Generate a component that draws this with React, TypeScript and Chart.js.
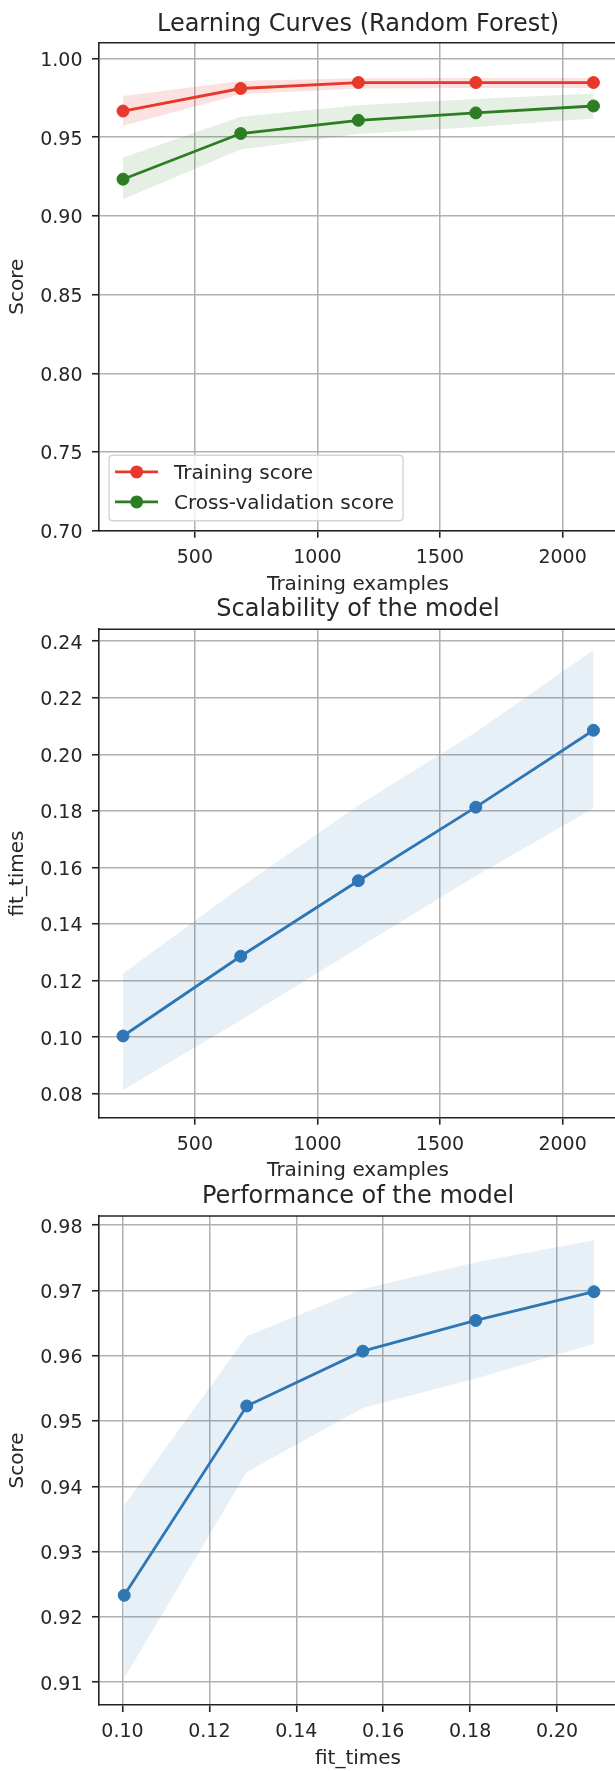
import React, { useEffect, useRef } from "react";
import { Chart, registerables } from "chart.js";

Chart.register(...registerables);

// ---------------- data ----------------
const trainSizes = [207, 687, 1167, 1646, 2126];

const trainScoreMean = [0.9666, 0.9809, 0.9847, 0.9847, 0.9847];
const trainScoreUpper = [0.9762, 0.9857, 0.9874, 0.9876, 0.9876];
const trainScoreLower = [0.9573, 0.9773, 0.9809, 0.9812, 0.9812];

const cvScoreMean = [0.9233, 0.9523, 0.9607, 0.9654, 0.9698];
const cvScoreUpper = [0.9371, 0.963, 0.9702, 0.9743, 0.9777];
const cvScoreLower = [0.9106, 0.9422, 0.952, 0.9565, 0.9618];

const fitTimesMean = [0.1004, 0.1286, 0.1553, 0.1813, 0.2085];
const fitTimesUpper = [0.1225, 0.153, 0.182, 0.2078, 0.2369];
const fitTimesLower = [0.0813, 0.106, 0.1316, 0.157, 0.1809];

const sizeTicks = [500, 1000, 1500, 2000];
const scoreTicks = [0.7, 0.75, 0.8, 0.85, 0.9, 0.95, 1.0];
const fitTimeYTicks = [0.08, 0.1, 0.12, 0.14, 0.16, 0.18, 0.2, 0.22, 0.24];
const fitTimeXTicks = [0.1, 0.12, 0.14, 0.16, 0.18, 0.2];
const perfScoreTicks = [0.91, 0.92, 0.93, 0.94, 0.95, 0.96, 0.97, 0.98];

const titles = ["Learning Curves (Random Forest)", "Scalability of the model", "Performance of the model"];
const seriesNames = ["Training score", "Cross-validation score"];

// ---------------- style ----------------
const FONT = "DejaVu Sans";
const TEXT = "#262626";
const RED = "#e6392b";
const GREEN = "#2d7d23";
const BLUE = "#2f76b4";
const CANVAS_W = 617;

Chart.defaults.font.family = FONT;

const pts = (xs: number[], ys: number[]) => xs.map((x, i) => ({ x, y: ys[i] }));

function lineDs(label: string, xs: number[], ys: number[], color: string) {
  return {
    label,
    data: pts(xs, ys),
    borderColor: color,
    backgroundColor: color,
    borderWidth: 2.8,
    pointRadius: 6,
    pointBorderWidth: 1,
    pointBackgroundColor: color,
    pointBorderColor: color,
    tension: 0,
    fill: false,
  };
}

function bandDs(label: string, xs: number[], ys: number[], fillColor: string, upper: boolean) {
  return {
    label,
    legendSkip: true,
    data: pts(xs, ys),
    borderWidth: 0,
    borderColor: "rgba(0,0,0,0)",
    backgroundColor: fillColor,
    pointRadius: 0,
    tension: 0,
    fill: upper ? "+1" : false,
  };
}

const framePlugin = {
  id: "mplFrame",
  afterDatasetsDraw(chart: any) {
    const { ctx, chartArea: a } = chart;
    ctx.save();
    ctx.strokeStyle = "#222";
    ctx.lineWidth = 1.6;
    ctx.beginPath();
    ctx.moveTo(a.left, a.top);
    ctx.lineTo(a.right, a.top);
    ctx.lineTo(a.right, a.bottom);
    ctx.stroke();
    ctx.restore();
  },
};

const legendPlugin = {
  id: "mplLegend",
  afterDatasetsDraw(chart: any, _args: any, opts: any) {
    if (!opts || !opts.show) return;
    const { ctx, chartArea: a } = chart;
    const items = chart.data.datasets.filter((d: any) => d.label && !d.legendSkip);
    ctx.save();
    ctx.font = `20px "${FONT}"`;
    const textW = Math.max(...items.map((d: any) => ctx.measureText(d.label).width));
    const left = a.left + 10;
    const bottom = a.bottom - 10;
    const height = 65.5;
    const top = bottom - height;
    const textX = left + 65;
    const right = textX + textW + 9;
    const r = 4;
    ctx.beginPath();
    ctx.moveTo(left + r, top);
    ctx.lineTo(right - r, top);
    ctx.quadraticCurveTo(right, top, right, top + r);
    ctx.lineTo(right, bottom - r);
    ctx.quadraticCurveTo(right, bottom, right - r, bottom);
    ctx.lineTo(left + r, bottom);
    ctx.quadraticCurveTo(left, bottom, left, bottom - r);
    ctx.lineTo(left, top + r);
    ctx.quadraticCurveTo(left, top, left + r, top);
    ctx.closePath();
    ctx.fillStyle = "rgba(255,255,255,0.8)";
    ctx.fill();
    ctx.strokeStyle = "#d4d4d4";
    ctx.lineWidth = 1.4;
    ctx.stroke();
    items.forEach((d: any, i: number) => {
      const y = top + 16.7 + i * 30;
      ctx.strokeStyle = d.borderColor;
      ctx.lineWidth = 2.8;
      ctx.beginPath();
      ctx.moveTo(left + 6, y);
      ctx.lineTo(left + 49, y);
      ctx.stroke();
      ctx.fillStyle = d.borderColor;
      ctx.beginPath();
      ctx.arc(left + 27.7, y, 6.5, 0, Math.PI * 2);
      ctx.fill();
      ctx.fillStyle = TEXT;
      ctx.textBaseline = "alphabetic";
      ctx.textAlign = "left";
      ctx.fillText(d.label, textX, y + 7.3);
    });
    ctx.restore();
  },
};

type Spec = {
  top: number;
  height: number;
  plotTop: number;
  plotBottom: number;
  titleMid: number;
  xLabelMid: number;
  title: string;
  xTitle: string;
  yTitle: string;
  datasets: any[];
  xMin: number;
  xMax: number;
  yMin: number;
  yMax: number;
  xTicks: number[];
  yTicks: number[];
  xDigits: number;
  yDigits: number;
  legend: boolean;
};

function buildConfig(s: Spec): any {
  const titlePadTop = s.titleMid - s.top - 12;
  const titlePadBottom = s.plotTop - s.top - 24 - titlePadTop;
  const xAxisH = s.top + s.height - s.plotBottom;
  const xTitlePadBottom = s.top + s.height - s.xLabelMid - 10;
  const tickFont = { family: FONT, size: 19 };
  const gridOpts = { color: "#b0b0b0", lineWidth: 1.5, tickLength: 7, tickColor: "#222", tickWidth: 1.6 };
  const borderOpts = { color: "#222", width: 1.6 };
  return {
    type: "line",
    data: { datasets: s.datasets },
    plugins: [framePlugin, legendPlugin],
    options: {
      responsive: false,
      animation: false,
      events: [],
      layout: { padding: 0, autoPadding: false },
      plugins: {
        legend: { display: false },
        tooltip: { enabled: false },
        mplLegend: { show: s.legend },
        title: {
          display: true,
          text: s.title,
          fullSize: false,
          color: TEXT,
          font: { family: FONT, size: 24, weight: "normal", lineHeight: 1 },
          padding: { top: titlePadTop, bottom: titlePadBottom },
        },
      },
      scales: {
        x: {
          type: "linear",
          position: "bottom",
          min: s.xMin,
          max: s.xMax,
          afterBuildTicks: (sc: any) => {
            sc.ticks = s.xTicks.map((v) => ({ value: v }));
          },
          afterFit: (sc: any) => {
            sc.height = xAxisH;
          },
          ticks: {
            font: tickFont,
            color: TEXT,
            padding: 9,
            maxRotation: 0,
            autoSkip: false,
            callback: (v: any) => Number(v).toFixed(s.xDigits),
          },
          grid: gridOpts,
          border: borderOpts,
          title: {
            display: true,
            text: s.xTitle,
            color: TEXT,
            font: { family: FONT, size: 20, lineHeight: 1 },
            padding: { top: 0, bottom: xTitlePadBottom },
          },
        },
        y: {
          type: "linear",
          position: "left",
          min: s.yMin,
          max: s.yMax,
          afterBuildTicks: (sc: any) => {
            sc.ticks = s.yTicks.map((v) => ({ value: v }));
          },
          afterFit: (sc: any) => {
            sc.width = 99;
          },
          ticks: {
            font: tickFont,
            color: TEXT,
            padding: 9.5,
            labelOffset: 2.5,
            autoSkip: false,
            callback: (v: any) => Number(v).toFixed(s.yDigits),
          },
          grid: gridOpts,
          border: borderOpts,
          title: {
            display: true,
            text: s.yTitle,
            color: TEXT,
            font: { family: FONT, size: 20, lineHeight: 1 },
            padding: { top: 8, bottom: 0 },
          },
        },
      },
    },
  };
}

const redBand = "rgba(230,57,43,0.15)";
const greenBand = "rgba(45,125,35,0.12)";
const blueBand = "rgba(47,118,180,0.11)";

const specs: Spec[] = [
  {
    top: 0,
    height: 600,
    plotTop: 42.7,
    plotBottom: 530.7,
    titleMid: 24.9,
    xLabelMid: 584.8,
    title: titles[0],
    xTitle: "Training examples",
    yTitle: "Score",
    datasets: [
      lineDs(seriesNames[0], trainSizes, trainScoreMean, RED),
      lineDs(seriesNames[1], trainSizes, cvScoreMean, GREEN),
      bandDs("train upper", trainSizes, trainScoreUpper, redBand, true),
      bandDs("train lower", trainSizes, trainScoreLower, redBand, false),
      bandDs("cv upper", trainSizes, cvScoreUpper, greenBand, true),
      bandDs("cv lower", trainSizes, cvScoreLower, greenBand, false),
    ],
    xMin: 109,
    xMax: 2222,
    yMin: 0.7,
    yMax: 1.01,
    xTicks: sizeTicks,
    yTicks: scoreTicks,
    xDigits: 0,
    yDigits: 2,
    legend: true,
  },
  {
    top: 585,
    height: 597,
    plotTop: 629.3,
    plotBottom: 1117.7,
    titleMid: 609.4,
    xLabelMid: 1170.8,
    title: titles[1],
    xTitle: "Training examples",
    yTitle: "fit_times",
    datasets: [
      lineDs("fit_times", trainSizes, fitTimesMean, BLUE),
      bandDs("fit upper", trainSizes, fitTimesUpper, blueBand, true),
      bandDs("fit lower", trainSizes, fitTimesLower, blueBand, false),
    ],
    xMin: 109,
    xMax: 2222,
    yMin: 0.0715,
    yMax: 0.2442,
    xTicks: sizeTicks,
    yTicks: fitTimeYTicks,
    xDigits: 0,
    yDigits: 2,
    legend: false,
  },
  {
    top: 1172,
    height: 599,
    plotTop: 1216,
    plotBottom: 1705,
    titleMid: 1197.2,
    xLabelMid: 1759.1,
    title: titles[2],
    xTitle: "fit_times",
    yTitle: "Score",
    datasets: [
      lineDs("Score", fitTimesMean, cvScoreMean, BLUE),
      bandDs("score upper", fitTimesMean, cvScoreUpper, blueBand, true),
      bandDs("score lower", fitTimesMean, cvScoreLower, blueBand, false),
    ],
    xMin: 0.0946,
    xMax: 0.2138,
    yMin: 0.9065,
    yMax: 0.9814,
    xTicks: fitTimeXTicks,
    yTicks: perfScoreTicks,
    xDigits: 2,
    yDigits: 2,
    legend: false,
  },
];

function Panel({ spec }: { spec: Spec }) {
  const ref = useRef<HTMLCanvasElement>(null);
  useEffect(() => {
    const canvas = ref.current;
    if (!canvas) return;
    const chart = new Chart(canvas, buildConfig(spec));
    return () => chart.destroy();
  }, [spec]);
  return (
    <canvas
      ref={ref}
      width={CANVAS_W}
      height={spec.height}
      style={{ position: "absolute", left: 0, top: spec.top, width: CANVAS_W, height: spec.height, display: "block" }}
    />
  );
}

export default function App() {
  return (
    <div
      style={{
        position: "absolute",
        left: 0,
        top: 0,
        width: 615,
        height: 1771,
        overflow: "hidden",
        background: "#ffffff",
      }}
    >
      {specs.map((s, i) => (
        <Panel key={i} spec={s} />
      ))}
    </div>
  );
}
